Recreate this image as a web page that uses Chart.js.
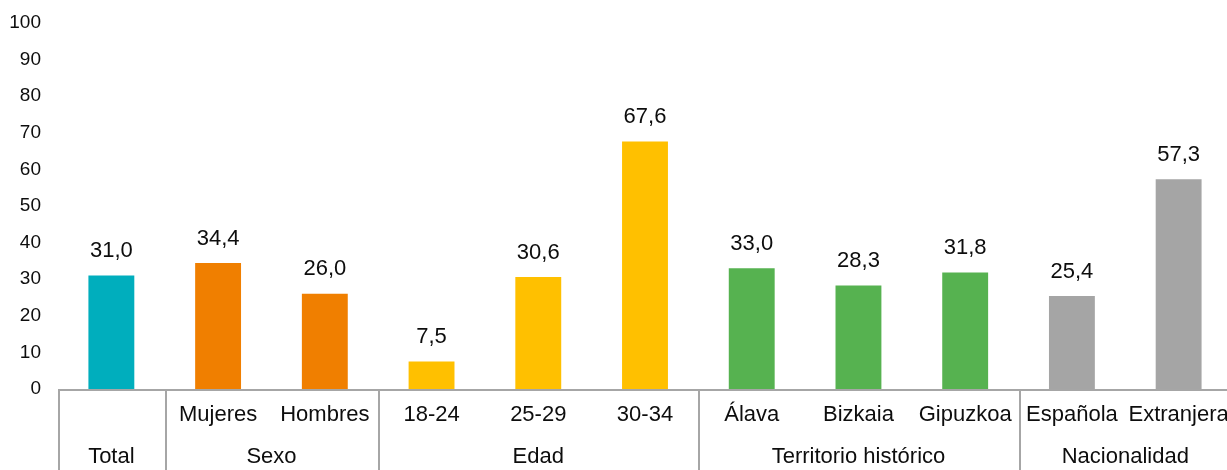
<!DOCTYPE html>
<html lang="es">
<head>
<meta charset="utf-8">
<title>Porcentaje por sexo, edad, territorio histórico y nacionalidad</title>
<script src="https://cdn.jsdelivr.net/npm/chart.js@4.4.1/dist/chart.umd.min.js"></script>
<style>
  html, body { margin: 0; padding: 0; background: #fff; overflow: hidden; }
  #wrap { width: 1227px; height: 470px; overflow: hidden; }
  canvas { display: block; }
</style>
</head>
<body>
<div id="wrap"><canvas id="chart" width="1232" height="470"></canvas></div>
<script>
// Categories (first row of the axis) and the groups they belong to (second row)
const categories = ['Total', 'Mujeres', 'Hombres', '18-24', '25-29', '30-34',
                    'Álava', 'Bizkaia', 'Gipuzkoa', 'Española', 'Extranjera'];
const groupNames = ['Total', 'Sexo', 'Edad', 'Territorio histórico', 'Nacionalidad'];
const groupSizes = [1, 2, 3, 3, 2];

// Percentages
const values = [31.0, 34.4, 26.0, 7.5, 30.6, 67.6, 33.0, 28.3, 31.8, 25.4, 57.3];

// Y axis ticks
const yTicks = [0, 10, 20, 30, 40, 50, 60, 70, 80, 90, 100];

const groupColors = ['#00AEBD', '#F07F00', '#FFC000', '#56B250', '#A5A5A5'];
const barColors = [];
groupSizes.forEach((n, g) => { for (let i = 0; i < n; i++) barColors.push(groupColors[g]); });

const FONT = '"Liberation Sans", Arial, sans-serif';
const TEXT = '#0d0d0d';
const LINE = '#A6A6A6';

const fmt = v => v.toFixed(1).replace('.', ',');

// Numbers above every bar
const valueLabels = {
  id: 'valueLabels',
  afterDatasetsDraw(chart) {
    const ctx = chart.ctx;
    const meta = chart.getDatasetMeta(0);
    ctx.save();
    ctx.font = '22px ' + FONT;
    ctx.fillStyle = TEXT;
    ctx.textAlign = 'center';
    ctx.textBaseline = 'middle';
    meta.data.forEach((bar, i) => {
      ctx.fillText(fmt(chart.data.datasets[0].data[i]), bar.x, bar.y - 24.5);
    });
    ctx.restore();
  }
};

// Base line, group separators and group names under the category labels
const groupAxis = {
  id: 'groupAxis',
  afterDraw(chart) {
    const ctx = chart.ctx;
    const x = chart.scales.x;
    const area = chart.chartArea;
    const half = (x.getPixelForValue(1) - x.getPixelForValue(0)) / 2;
    const top = area.bottom;
    const bottom = chart.height;
    ctx.save();
    ctx.strokeStyle = LINE;
    ctx.lineWidth = 2;
    ctx.beginPath();
    ctx.moveTo(area.left, top + 1);
    ctx.lineTo(area.right, top + 1);
    ctx.stroke();
    ctx.font = '22px ' + FONT;
    ctx.fillStyle = TEXT;
    ctx.textAlign = 'center';
    ctx.textBaseline = 'middle';
    let start = 0;
    groupSizes.forEach((n, g) => {
      const left = x.getPixelForValue(start) - half;
      const right = x.getPixelForValue(start + n - 1) + half;
      ctx.beginPath();
      ctx.moveTo(Math.round(left) + 1, top);
      ctx.lineTo(Math.round(left) + 1, bottom);
      ctx.stroke();
      ctx.fillText(groupNames[g], (left + right) / 2, 457);
      start += n;
    });
    ctx.restore();
  }
};

new Chart(document.getElementById('chart'), {
  type: 'bar',
  data: {
    labels: categories,
    datasets: [{
      data: values,
      backgroundColor: barColors,
      borderWidth: 0,
      categoryPercentage: 1,
      barPercentage: 0.43
    }]
  },
  options: {
    responsive: false,
    animation: false,
    events: [],
    layout: { padding: { top: 23, left: 0, right: 0, bottom: 0 } },
    plugins: { legend: { display: false }, tooltip: { enabled: false } },
    scales: {
      x: {
        grid: { display: false, drawTicks: false },
        border: { display: false },
        ticks: {
          autoSkip: false,
          maxRotation: 0,
          padding: 13,
          color: TEXT,
          font: { family: FONT, size: 22 },
          callback: (v, i) => (i === 0 ? '' : categories[i])
        },
        afterFit: s => { s.height = 81; s.paddingLeft = 0; s.paddingRight = 0; }
      },
      y: {
        min: 0,
        max: 100,
        grid: { display: false, drawTicks: false },
        border: { display: false },
        afterBuildTicks: s => { s.ticks = yTicks.map(v => ({ value: v })); },
        ticks: {
          padding: 17,
          color: TEXT,
          font: { family: FONT, size: 19 }
        },
        afterFit: s => { s.width = 58; s.paddingTop = 0; s.paddingBottom = 0; }
      }
    }
  },
  plugins: [valueLabels, groupAxis]
});
</script>
</body>
</html>
